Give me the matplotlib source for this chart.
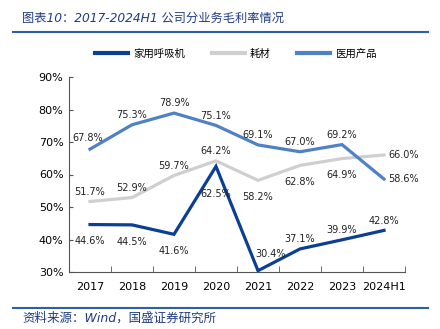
import matplotlib
matplotlib.use("Agg")
import matplotlib.pyplot as plt
from matplotlib.lines import Line2D

plt.rcParams['font.family'] = ['DejaVu Sans', 'Noto Sans CJK SC']

years = ["2017", "2018", "2019", "2020", "2021", "2022", "2023", "2024H1"]
home_vent = [44.6, 44.5, 41.6, 62.5, 30.4, 37.1, 39.9, 42.8]
consumables = [51.7, 52.9, 59.7, 64.2, 58.2, 62.8, 64.9, 66.0]
medical = [67.8, 75.3, 78.9, 75.1, 69.1, 67.0, 69.2, 58.6]
series_names = ["家用呼吸机", "耗材", "医用产品"]
yticks = [30, 40, 50, 60, 70, 80, 90]

colors = ["#0B3F94", "#CFCFCF", "#4F81C7"]

# label offsets in points (styling)
off_home = [(0, -12), (0, -12), (0, -12), (0, -20), (9, 12), (0, 7), (0, 7), (0, 7)]
off_cons = [(0, 7), (0, 7), (0, 7), (0, 7), (0, -12), (0, -12), (0, -12), (14, 0)]
off_med = [(-2, 8), (0, 7), (0, 7), (0, 7), (0, 7), (0, 7), (0, 7), (14, 0)]

fig = plt.figure(figsize=(4.4, 3.29), dpi=100)
ax = fig.add_axes([69/440, 1-272/329, 336/440, 195/329])

x = list(range(len(years)))
for vals, c, offs in [(consumables, colors[1], off_cons), (medical, colors[2], off_med), (home_vent, colors[0], off_home)]:
    ax.plot(x, vals, color=c, lw=2.3, solid_joinstyle='miter', zorder=3)
    for xi, v, (dx, dy) in zip(x, vals, offs):
        ax.annotate(f"{v:.1f}%", (xi, v), xytext=(dx, dy), textcoords='offset points',
                    ha='center', va='center', fontsize=7, color='#222222', zorder=4)

ax.set_xlim(-0.5, len(years) - 0.5)
ax.set_ylim(30, 90)
ax.set_yticks(yticks)
ax.set_yticklabels([f"{t}%" for t in yticks], fontsize=8)
ax.set_xticks(x)
ax.set_xticklabels(years, fontsize=8)
ax.set_xticks([i + 0.5 for i in range(-1, len(years))], minor=True)
ax.tick_params(axis='x', which='major', length=0, pad=7)
ax.tick_params(axis='x', which='minor', length=4, direction='in', color='#555555')
ax.tick_params(axis='y', length=3, direction='in', color='#555555', pad=4)
ax.spines['top'].set_visible(False)
ax.spines['right'].set_visible(False)
for s in ['left', 'bottom']:
    ax.spines[s].set_color('#555555')
    ax.spines[s].set_linewidth(0.8)

handles = [Line2D([], [], color=colors[i], lw=3) for i in range(3)]
fig.legend(handles, series_names, loc='center', bbox_to_anchor=(236/440, 1-54/329), ncol=3,
           frameon=False, handlelength=3.2, columnspacing=2.5, handletextpad=0.5,
           prop={'family': ['Noto Sans CJK SC'], 'size': 7.5})

fig.text(22/440, 1-18/329, "图表10：2017-2024H1 公司分业务毛利率情况", fontsize=8.8, style='italic',
         color='#1F3C88', va='center', ha='left', family=['DejaVu Sans', 'Noto Sans CJK SC'])
fig.add_artist(Line2D([13/440, 428/440], [1-32/329, 1-32/329], color='#2E5EAA', lw=1.5))
fig.add_artist(Line2D([13/440, 428/440], [1-308/329, 1-308/329], color='#2E5EAA', lw=1.5))
fig.text(22/440, 1-318/329, "资料来源：Wind，国盛证券研究所", fontsize=9, style='italic',
         color='#1F3C88', va='center', ha='left', family=['DejaVu Sans', 'Noto Sans CJK SC'])

fig.savefig("out.png", dpi=100)
